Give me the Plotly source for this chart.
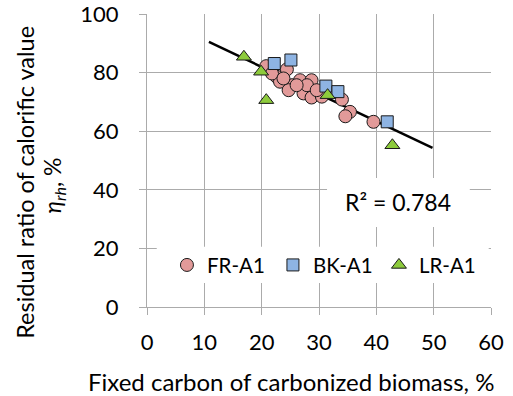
import plotly.graph_objects as go

fr_x = [20.8, 24.4, 22.6, 23.2, 25.3, 26.7, 24.7, 27.3, 28.7, 28.7, 27.9, 30.5, 29.6, 34.0, 35.4, 34.6, 39.5, 26.1, 21.8, 23.8]
fr_y = [82.2, 81.1, 78.6, 76.9, 75.7, 77.4, 74.0, 72.9, 77.4, 71.5, 75.7, 71.8, 74.0, 70.8, 66.6, 65.1, 63.2, 75.7, 79.7, 78.0]
bk_x = [22.2, 25.1, 31.2, 33.3, 41.9]
bk_y = [83.1, 84.3, 75.4, 73.5, 63.2]
lr_x = [16.9, 19.9, 20.8, 31.5, 42.8]
lr_y = [85.4, 80.3, 70.6, 72.3, 55.2]
trend_slope = -0.928
trend_intercept = 100.5
trend_x = [10.8, 49.8]
r2_text = "R² = 0.784"
x_ticks = [0, 10, 20, 30, 40, 50, 60]
y_ticks = [0, 20, 40, 60, 80, 100]

trend_y = [trend_slope * v + trend_intercept for v in trend_x]

font = "Lato, 'Open Sans', sans-serif"
grid = "#ABABAB"
fig = go.Figure()

# white boxes (legend + R² label) that hide the gridlines
fig.add_shape(type="rect", xref="x", yref="y", x0=1.7, x1=59.6, y0=8.2, y1=20.6,
              fillcolor="white", line=dict(width=0), layer="between")
fig.add_shape(type="rect", xref="x", yref="y", x0=31.4, x1=56.3, y0=27.3, y1=44.0,
              fillcolor="white", line=dict(width=0), layer="between")

fig.add_trace(go.Scatter(x=trend_x, y=trend_y, mode="lines", line=dict(color="black", width=2.5),
                         showlegend=False, hoverinfo="skip"))
mk_line = dict(color="#1a1a1a", width=1)
fig.add_trace(go.Scatter(x=fr_x, y=fr_y, mode="markers", name="FR-A1",
                         marker=dict(symbol="circle", size=13, color="#E29A99", line=mk_line)))
fig.add_trace(go.Scatter(x=bk_x, y=bk_y, mode="markers", name="BK-A1",
                         marker=dict(symbol="square", size=12, color="#8EB4E3", line=mk_line)))
fig.add_trace(go.Scatter(x=lr_x, y=lr_y, mode="markers", name="LR-A1",
                         marker=dict(symbol="triangle-up", size=13, color="#8DCB3C", line=mk_line)))

fig.add_annotation(x=43.8, y=35.7, xref="x", yref="y", text=r2_text, showarrow=False,
                   xanchor="center", yanchor="middle",
                   font=dict(size=23, color="black", family=font))

# axis titles
fig.add_annotation(x=-0.3547, y=0.427, xref="paper", yref="paper", text="Residual ratio of calorific value",
                   textangle=-90, showarrow=False, xanchor="center", yanchor="middle",
                   font=dict(size=23.5, color="black", family=font))
fig.add_annotation(x=-0.272, y=0.416, xref="paper", yref="paper",
                   text="<i>η</i><sub><i>rh</i></sub>, %", xanchor="center", yanchor="middle",
                   textangle=-90, showarrow=False, font=dict(size=23, color="black", family=font))
fig.add_annotation(x=0.4186, y=-0.2526, xref="paper", yref="paper",
                   text="Fixed carbon of carbonized biomass, %", xanchor="center", yanchor="middle",
                   showarrow=False, font=dict(size=24, color="black", family=font))

fig.update_layout(
    width=513, height=396,
    margin=dict(l=147, r=22, t=14, b=89),
    paper_bgcolor="white", plot_bgcolor="white",
    font=dict(family=font, size=22, color="black"),
    legend=dict(orientation="h", x=0.058, y=0.143, xanchor="left", yanchor="middle",
                bgcolor="rgba(0,0,0,0)", font=dict(size=20.5), itemwidth=30,
                entrywidth=61, entrywidthmode="pixels", tracegroupgap=0),
    xaxis=dict(range=[0, 60], tickvals=x_ticks, showgrid=True, gridcolor=grid, gridwidth=1.3,
               showline=True, linecolor=grid, linewidth=1.3, ticks="outside",
               tickcolor=grid, ticklen=7, zeroline=False, ticklabelstandoff=8,
               ticklabeloverflow="allow", automargin=False, tickfont=dict(size=22)),
    yaxis=dict(range=[0, 100], tickvals=y_ticks, showgrid=True, gridcolor=grid, gridwidth=1.3,
               showline=True, linecolor=grid, linewidth=1.3, ticks="outside",
               tickcolor=grid, ticklen=7, zeroline=False, ticklabelstandoff=16,
               ticklabeloverflow="allow", automargin=False, tickfont=dict(size=22)),
)
fig.write_html("out.html")
